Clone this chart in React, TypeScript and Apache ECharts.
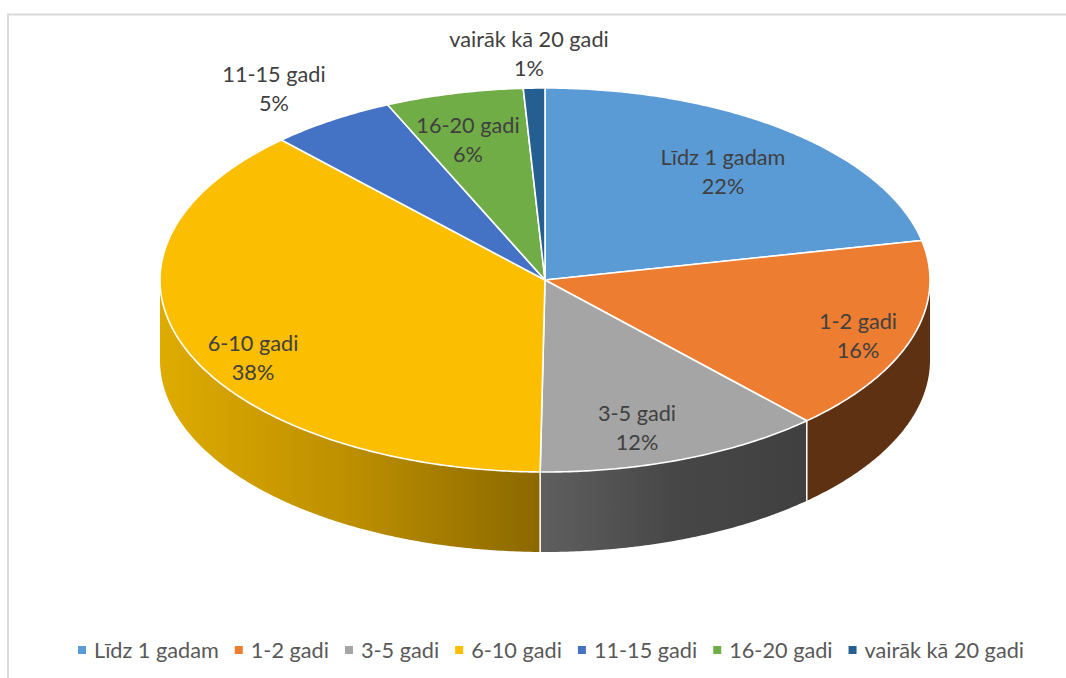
import React, { useEffect, useRef } from "react";
import * as echarts from "echarts";

const categories = ["Līdz 1 gadam", "1-2 gadi", "3-5 gadi", "6-10 gadi", "11-15 gadi", "16-20 gadi", "vairāk kā 20 gadi"];
const shares = [21.7, 16.4, 12.1, 37.8, 5.3, 5.8, 0.9];

const topColors = ["#5B9BD5", "#ED7D31", "#A5A5A5", "#FBBE00", "#4472C4", "#70AD47", "#255E91"];
const wallStops: [string, string, string][] = [
  ["#2f4f6e", "#2f4f6e", "#2f4f6e"],
  ["#5F3113", "#5F3113", "#5F3113"],
  ["#5F5F5F", "#474747", "#404040"],
  ["#DEAB00", "#BD8F00", "#8B6800"],
  ["#26416f", "#26416f", "#26416f"],
  ["#40632a", "#40632a", "#40632a"],
  ["#15375a", "#15375a", "#15375a"],
];
const labelCenters = [[723, 171], [858, 335], [637, 427], [253, 357], [274, 88], [468, 139], [529, 53]];

const CX = 545, CY = 280, RX = 385, RY = 192, DEPTH = 80;
const total = shares.reduce((a, b) => a + b, 0);

const rimPoint = (deg: number, dy = 0) => {
  const a = (deg * Math.PI) / 180;
  return [CX + RX * Math.sin(a), CY - RY * Math.cos(a) + dy];
};
const arcPoints = (from: number, to: number, dy = 0) => {
  const pts: number[][] = [];
  const steps = Math.max(2, Math.ceil((to - from) / 0.5));
  for (let i = 0; i <= steps; i++) pts.push(rimPoint(from + ((to - from) * i) / steps, dy));
  return pts;
};

const sliceRenderer = (index: number) => () => {
  const before = shares.slice(0, index).reduce((a, b) => a + b, 0);
  const start = (before / total) * 360;
  const end = ((before + shares[index]) / total) * 360;
  const children: any[] = [];

  const wallFrom = Math.max(start, 90);
  const wallTo = Math.min(end, 270);
  if (wallTo > wallFrom) {
    const top = arcPoints(wallFrom, wallTo);
    const bottom = arcPoints(wallFrom, wallTo, DEPTH).reverse();
    const stops = wallStops[index];
    children.push({
      type: "polygon",
      z2: 1,
      silent: true,
      shape: { points: top.concat(bottom) },
      style: {
        fill: new echarts.graphic.LinearGradient(0, 0, 1, 0, [
          { offset: 0, color: stops[0] },
          { offset: 0.5, color: stops[1] },
          { offset: 1, color: stops[2] },
        ]),
      },
    });
    if (start >= 90 && start <= 270) {
      const a = rimPoint(start);
      const b = rimPoint(start, DEPTH);
      children.push({
        type: "line",
        z2: 2,
        silent: true,
        shape: { x1: a[0], y1: a[1], x2: b[0], y2: b[1] },
        style: { stroke: "#ffffff", lineWidth: 1.5 },
      });
    }
  }

  children.push({
    type: "polygon",
    z2: 3,
    silent: true,
    shape: { points: [[CX, CY], ...arcPoints(start, end)] },
    style: { fill: topColors[index], stroke: "#ffffff", lineWidth: 1.6, lineJoin: "round" },
  });

  children.push({
    type: "text",
    z2: 4,
    silent: true,
    x: labelCenters[index][0],
    y: labelCenters[index][1],
    style: {
      text: `${categories[index]}\n${Math.round((shares[index] / total) * 100)}%`,
      fontFamily: "Lato",
      fontSize: 21.7,
      lineHeight: 29,
      fill: "#404040",
      align: "center",
      verticalAlign: "middle",
    },
  });

  return { type: "group", children };
};

export default function App() {
  const ref = useRef<HTMLDivElement>(null);
  useEffect(() => {
    const chart = echarts.init(ref.current!, undefined, { renderer: "svg" });
    chart.setOption({
      animation: false,
      backgroundColor: "#ffffff",
      legend: {
        show: true,
        data: categories,
        bottom: 17,
        left: 78,
        padding: 0,
        icon: "rect",
        itemWidth: 8,
        itemHeight: 8,
        itemGap: 16,
        selectedMode: false,
        textStyle: { fontFamily: "Lato", fontSize: 21.7, color: "#595959", padding: [0, 0, 0, 3] },
      },
      graphic: [
        { type: "line", silent: true, shape: { x1: 7, y1: 14.5, x2: 1066, y2: 14.5 }, style: { stroke: "#d9d9d9", lineWidth: 2 } },
        { type: "line", silent: true, shape: { x1: 8, y1: 14, x2: 8, y2: 678 }, style: { stroke: "#d9d9d9", lineWidth: 2 } },
      ],
      series: categories.map((name, i) => ({
        type: "custom",
        name,
        coordinateSystem: "none",
        silent: true,
        itemStyle: { color: topColors[i] },
        data: [shares[i]],
        renderItem: sliceRenderer(i),
      })),
    });
    return () => chart.dispose();
  }, []);
  return <div ref={ref} style={{ position: "absolute", left: 0, top: 0, width: 1066, height: 678 }} />;
}
